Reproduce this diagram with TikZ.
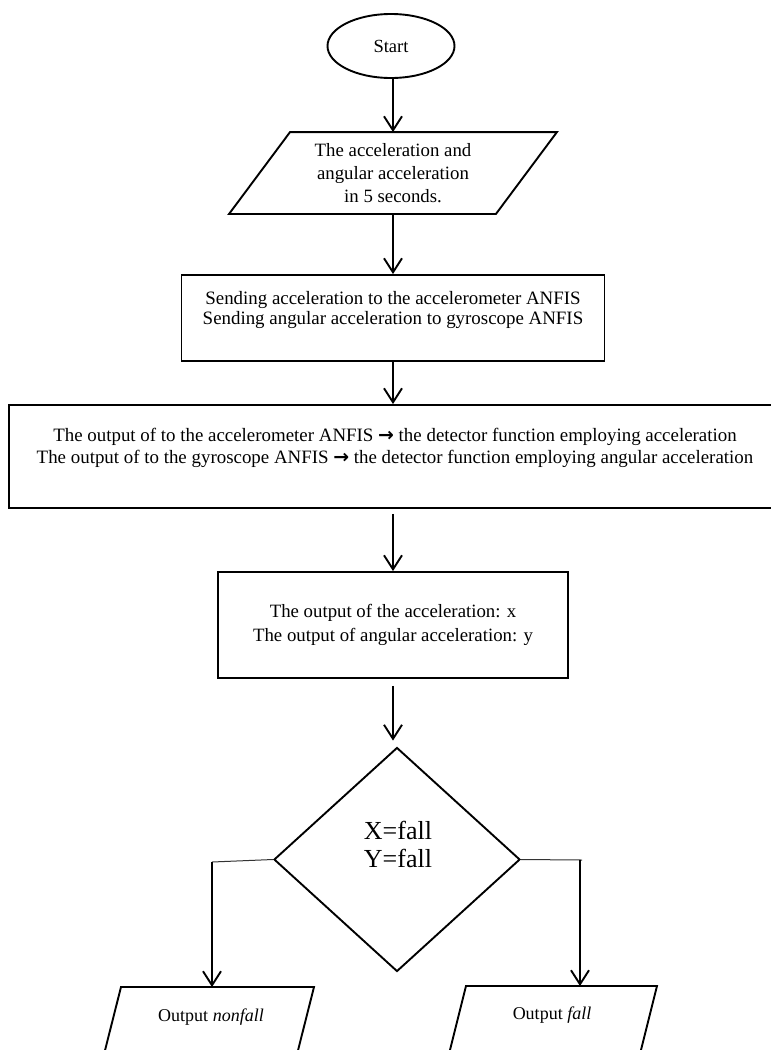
\documentclass[tikz,border=0pt]{standalone}
\usepackage{fontspec}
\setmainfont{Liberation Serif}
\newfontfamily\arrowfont{DejaVu Sans}
\usetikzlibrary{arrows.meta,shapes.geometric}
\begin{document}
\begin{tikzpicture}[x=1pt,y=-1pt,
  line width=1.9pt,
  arr/.style={-{Straight Barb[length=14pt,width=18pt,line width=1.9pt]}, line width=1.9pt},
  box/.style={draw, rectangle, inner sep=0pt, align=center},
  thinline/.style={line width=1pt, black!80},
  txt/.style={inner sep=0pt, align=center}]
\clip (0,0) rectangle (771,1050);
\fill[white] (0,0) rectangle (771,1050);

% Start
\node[draw, ellipse, minimum width=127pt, minimum height=64pt, inner sep=0pt,
      font=\fontsize{18.5}{21}\selectfont] (start) at (391,46) {Start};

% input parallelogram
\node[txt, minimum width=265pt, minimum height=80pt,
      font=\fontsize{18.8}{23}\selectfont] (inp) at (393,173)
  {The acceleration and\\angular acceleration\\ in 5 seconds.};
\draw ([xshift=30.5pt]inp.north west) -- ([xshift=30.5pt]inp.north east)
   -- ([xshift=-30.5pt]inp.south east) -- ([xshift=-30.5pt]inp.south west) -- cycle;

% sending box
\node[box, minimum width=423pt, minimum height=86pt,
      font=\fontsize{18.9}{20}\selectfont] (send) at (393,318)
  {Sending acceleration to the accelerometer ANFIS\\Sending angular acceleration to gyroscope ANFIS\\\mbox{}};

% wide box
\node[box, minimum width=772pt, minimum height=103pt,
      font=\fontsize{18.9}{22}\selectfont] (wide) at (395,456.5)
  {The output of to the accelerometer ANFIS {\arrowfont\bfseries →} the detector function employing acceleration\\
   The output of to the gyroscope ANFIS {\arrowfont\bfseries →} the detector function employing angular acceleration\\\mbox{}};

% output box
\node[box, minimum width=350pt, minimum height=106pt,
      font=\fontsize{18.8}{24}\selectfont] (outxy) at (393,625)
  {The output of the acceleration: x\\The output of angular acceleration: y};

% decision
\node[draw, diamond, minimum width=246pt, minimum height=224pt, inner sep=0pt] (dec) at (397,859.5) {};
\node[txt, font=\fontsize{26}{28}\selectfont] (dectext) at (398,844) {X=fall\\Y=fall};

% outputs
\draw (121,987) -- (314,987) -- (288,1090) -- (95,1090) -- cycle;
\node[txt, font=\fontsize{18}{21}\selectfont] (nf) at (211,1017) {Output \textit{nonfall}};
\draw (466,986) -- (657,986) -- (631,1090) -- (440,1090) -- cycle;
\node[txt, font=\fontsize{18}{21}\selectfont] (fl) at (552,1015) {Output \textit{fall}};

\coordinate (lb) at (212,862);
\coordinate (nftop) at (212,987);
\coordinate (rb) at (582,860);
\coordinate (rb2) at (580,860);
\coordinate (ftop) at (580,986);

% connectors
\draw[arr] (start.south -| inp.north) -- (inp.north);
\draw[arr] (inp.south) -- (send.north);
\draw[arr] (send.south) -- (send.south |- wide.north);
\draw[arr, shorten <=5pt] (send.south |- wide.south) -- (outxy.north);
\draw[arr, shorten <=7pt, shorten >=6pt] (outxy.south) -- (outxy.south |- dec.north);
\draw[thinline] (dec.west) -- (lb);
\draw[arr] (lb) -- (nftop);
\draw[thinline] (dec.east) -- (rb);
\draw[arr] (rb2) -- (ftop);
\end{tikzpicture}
\end{document}
